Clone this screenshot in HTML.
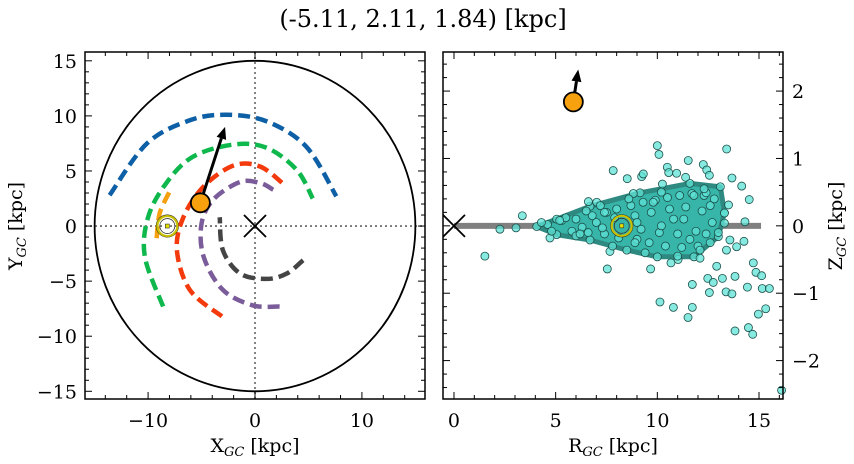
<!DOCTYPE html>
<html><head><meta charset="utf-8"><style>
body{margin:0;background:#fff;width:854px;height:464px;overflow:hidden}
svg{display:block;font-family:"DejaVu Serif","Liberation Serif",serif}
</style></head><body>
<svg id="c" width="854" height="464">
<text x="423" y="27" font-size="24" text-anchor="middle">(-5.11, 2.11, 1.84) [kpc]</text>
</svg>
<script>
// ---- data: left panel orbits (X,Y kpc)
const blueX=[-13.6,-10.1,-6.1,-2.6,1.1,4.8,7.6];
const blueY=[2.8,7.5,9.6,10.1,9.5,7.2,2.7];
const greenX=[-8.6,-10.3,-10.0,-8.3,-5.8,-2.0,1.1,3.9,5.4];
const greenY=[-7.3,-2.8,0.8,3.9,6.3,7.4,7.1,5.1,2.5];
const redX=[-3.1,-6.1,-7.3,-6.7,-4.8,-2.0,0.5,2.8];
const redY=[-8.2,-5.8,-2.2,0.8,3.6,5.5,5.4,3.7];
const purpleX=[2.3,-0.2,-3.0,-4.8,-5.0,-3.9,-1.4,0.5,1.7];
const purpleY=[-7.3,-7.2,-5.8,-2.8,0.2,2.4,4.0,3.9,3.3];
const grayX=[4.5,3.0,1.1,-1.4,-3.0,-3.3];
const grayY=[-3.1,-4.3,-4.8,-4.3,-2.2,0.8];
const orangeX=[-9.2,-8.9,-7.9];
const orangeY=[-1.1,1.2,3.3];
const starXY=[-5.11,2.11];
const velTipXY=[-2.8,9.0];
const sunXY=[-8.2,0];
// ---- right panel (R,Z)
const starRZ=[5.87,1.84];
const velTipRZ=[6.11,2.32];
const sunRZ=[8.25,0];
const coreR=[4.07,5.05,6.69,9.15,11.6,13.1,13.3,13.0,11.8,10.0,8.5,6.69,5.05];
const coreZ=[-0.01,0.1,0.29,0.49,0.63,0.58,0.19,-0.16,-0.46,-0.46,-0.36,-0.21,-0.13];
const innerR=[4.6,5.3,6.0,6.8,7.5,8.0,8.7,9.3,9.9,10.5,11.1,11.7,12.3,12.8,5.8,6.6,7.4,9.0,9.6,10.4,11.2,12.0,12.6,7.0,7.9,8.9,9.7,10.6,11.4,12.2,6.3,7.3,9.2,10.1,11.0,11.9,12.7,8.1,9.0,10.2,11.3,12.4];
const innerZ=[0.02,0.08,0.1,0.15,0.2,0.25,0.3,0.35,0.38,0.42,0.45,0.48,0.45,0.4,-0.08,-0.1,-0.12,-0.2,-0.25,-0.3,-0.32,-0.3,-0.25,0.05,0.12,0.15,0.2,0.25,0.28,0.22,-0.02,-0.03,-0.05,-0.1,-0.12,-0.08,0.05,-0.18,0.05,0.0,0.1,-0.12];
const ptR=[1.52,2.26,3.05,3.36,4.72,6.61,7.02,7.54,7.67,7.83,8.52,8.82,9.23,9.31,9.67,10.0,10.08,10.13,10.25,10.49,10.56,10.67,10.79,10.95,11.02,11.39,11.52,11.51,11.72,11.72,12.1,12.26,12.43,12.56,12.48,12.56,12.75,12.92,13.2,13.38,13.41,13.67,13.67,13.82,13.82,13.9,14.15,14.26,14.31,14.43,14.48,14.69,14.52,14.72,14.85,15.13,15.16,14.97,15.33,15.51,16.11,13.3,13.3,13.5,12.4,13.4,13.57,12.1,4.3,4.8,5.5,6.0,6.5,7.2,7.8,8.6,9.4,10.2,11.0,11.8,12.6,5.2,6.2,7.4,8.9,9.8,10.8,11.6,12.3,13.0];
const ptZ=[-0.45,-0.05,-0.03,0.15,-0.18,0.36,0.35,-0.64,-0.38,0.82,0.70,0.48,0.73,0.77,-0.64,1.19,1.06,-1.13,0.62,0.87,0.79,-0.55,-1.21,0.78,-0.50,0.72,0.97,-1.36,-1.21,-0.87,-0.48,0.91,0.83,0.75,-0.78,-0.99,-0.84,-0.60,-0.78,-0.98,1.14,0.71,-1.01,-0.75,-1.56,-0.31,0.59,-0.23,0.06,-0.91,-1.51,-1.61,0.39,-0.55,-0.69,-0.74,-0.93,-1.31,-1.23,-0.93,-2.44,0.19,0.04,0.31,0.49,-0.36,-0.21,-0.36,0.05,-0.08,0.12,-0.15,0.22,0.3,-0.3,0.4,-0.4,0.5,-0.45,0.45,0.3,0.08,-0.12,0.2,-0.25,0.35,0.1,-0.2,0.55,-0.1];
const leftXTicks=[-10,0,10], leftYTicks=[-15,-10,-5,0,5,10,15];
const rightXTicks=[0,5,10,15], rightYTicks=[-2,-1,0,1,2];

const NS='http://www.w3.org/2000/svg', svg=document.getElementById('c');
function mk(t,a,p){const e=document.createElementNS(NS,t);for(const k in a)e.setAttribute(k,a[k]);(p||svg).appendChild(e);return e;}
const L={x0:85,x1:425,y0:52,y1:399,xmin:-15.9,xmax:15.9,ymin:-15.7,ymax:15.8};
const Rp={x0:443,x1:783,y0:52,y1:399,xmin:-0.54,xmax:16.18,ymin:-2.57,ymax:2.58};
const sx=(A,v)=>A.x0+(v-A.xmin)/(A.xmax-A.xmin)*(A.x1-A.x0);
const sy=(A,v)=>A.y1-(v-A.ymin)/(A.ymax-A.ymin)*(A.y1-A.y0);

const gL=mk('g',{});
const gR=mk('g',{});

mk('line',{x1:L.x0,x2:L.x1,y1:sy(L,0),y2:sy(L,0),stroke:'#777','stroke-width':1.8,'stroke-dasharray':'2,3'},gL);
mk('line',{x1:sx(L,0),x2:sx(L,0),y1:L.y0,y2:L.y1,stroke:'#777','stroke-width':1.8,'stroke-dasharray':'2,3'},gL);
const circ=mk('ellipse',{cx:sx(L,0),cy:sy(L,0),rx:sx(L,15)-sx(L,0),ry:sy(L,0)-sy(L,15),fill:'none',stroke:'#000','stroke-width':1.8},gL);

function smooth(P){let d='M'+P[0][0].toFixed(1)+','+P[0][1].toFixed(1);
 for(let i=0;i<P.length-1;i++){const p0=P[i-1]||P[i],p1=P[i],p2=P[i+1],p3=P[i+2]||p2;
  const c1=[p1[0]+(p2[0]-p0[0])/6,p1[1]+(p2[1]-p0[1])/6],c2=[p2[0]-(p3[0]-p1[0])/6,p2[1]-(p3[1]-p1[1])/6];
  d+=`C${c1[0].toFixed(1)},${c1[1].toFixed(1)} ${c2[0].toFixed(1)},${c2[1].toFixed(1)} ${p2[0].toFixed(1)},${p2[1].toFixed(1)}`;}
 return d;}
function orbit(X,Y,col,name){
  const P=X.map((x,i)=>[sx(L,x),sy(L,Y[i])]);
  const p=mk('path',{d:smooth(P),fill:'none',stroke:col,'stroke-width':4.5,'stroke-dasharray':'12,6'},gL);
  
  
}
orbit(blueX,blueY,'#0d5fa6','orbit-blue');
orbit(greenX,greenY,'#0fb84c','orbit-green');
orbit(redX,redY,'#f23a0c','orbit-red');
orbit(purpleX,purpleY,'#7b5c9a','orbit-purple');
orbit(grayX,grayY,'#444','orbit-gray');
orbit(orangeX,orangeY,'#f5a00f','orbit-orange');
function cross(g,x,y,n){mk('path',{d:`M${x-11},${y-11}L${x+11},${y+11}M${x-11},${y+11}L${x+11},${y-11}`,stroke:'#000','stroke-width':1.8},g);}
cross(gL,sx(L,0),sy(L,0),'galactic-center-marker');
function sun(g,x,y){const c=mk('circle',{cx:x,cy:y,r:11,fill:'none',stroke:'#222','stroke-width':1},g);
 mk('circle',{cx:x,cy:y,r:10,fill:'none',stroke:'#c8c000','stroke-width':2.2},g);mk('circle',{cx:x,cy:y,r:7.5,fill:'none',stroke:'#333','stroke-width':0.8},g);
 mk('rect',{x:x-2,y:y-2,width:4,height:4,fill:'#e3e000',stroke:'#333','stroke-width':0.6},g);}
function arrow(g,x1,y1,x2,y2){const a=Math.atan2(y2-y1,x2-x1),h=12,w=5;
 mk('line',{x1:x1,y1:y1,x2:x2-h*Math.cos(a),y2:y2-h*Math.sin(a),stroke:'#000','stroke-width':3},g);
 mk('polygon',{points:`${x2},${y2} ${x2-h*Math.cos(a)+w*Math.sin(a)},${y2-h*Math.sin(a)-w*Math.cos(a)} ${x2-h*Math.cos(a)-w*Math.sin(a)},${y2-h*Math.sin(a)+w*Math.cos(a)}`,fill:'#000'},g);}
function star(g,x,y){const c=mk('circle',{cx:x,cy:y,r:9.5,fill:'#f7a10e',stroke:'#000','stroke-width':1.8},g);}
sun(gL,sx(L,sunXY[0]),sy(L,sunXY[1]));
arrow(gL,sx(L,starXY[0]),sy(L,starXY[1]),sx(L,velTipXY[0]),sy(L,velTipXY[1]));
star(gL,sx(L,starXY[0]),sy(L,starXY[1]));

// right panel
const band=mk('line',{x1:sx(Rp,0),x2:sx(Rp,15.1),y1:sy(Rp,0),y2:sy(Rp,0),stroke:'#808080','stroke-width':6},gR);

const core=mk('polygon',{points:coreR.map((r,i)=>sx(Rp,r).toFixed(1)+','+sy(Rp,coreZ[i]).toFixed(1)).join(' '),fill:'#37b5a9',stroke:'#2e8a81','stroke-width':5,'stroke-linejoin':'round'},gR);

function pt(r,z){const c=mk('circle',{cx:sx(Rp,r),cy:sy(Rp,z),r:4,fill:'#5fe3d6',stroke:'#1b4f4a','stroke-width':0.8,'fill-opacity':0.75},gR);
 
 }
for(let i=0;i<coreR.length;i++)pt(coreR[i],coreZ[i]);
for(let i=0;i<innerR.length;i++)pt(innerR[i],innerZ[i]);
for(let i=0;i<ptR.length;i++)pt(ptR[i],ptZ[i]);
cross(gR,sx(Rp,0),sy(Rp,0),'galactic-center-marker');
sun(gR,sx(Rp,sunRZ[0]),sy(Rp,sunRZ[1]));
arrow(gR,sx(Rp,starRZ[0]),sy(Rp,starRZ[1]),sx(Rp,velTipRZ[0]),sy(Rp,velTipRZ[1]));
star(gR,sx(Rp,starRZ[0]),sy(Rp,starRZ[1]));

function frame(A,g,xt,xminor,yt,yminor,yRight){
 mk('rect',{x:A.x0,y:A.y0,width:A.x1-A.x0,height:A.y1-A.y0,fill:'none',stroke:'#000','stroke-width':1.5},g);
 for(let v=Math.ceil(A.xmin/xminor)*xminor;v<=A.xmax;v+=xminor){const x=sx(A,v);const maj=xt.some(t=>Math.abs(t-v)<1e-6);const l=maj?7:4;
  mk('line',{x1:x,x2:x,y1:A.y1,y2:A.y1-l,stroke:'#000','stroke-width':1},g);mk('line',{x1:x,x2:x,y1:A.y0,y2:A.y0+l,stroke:'#000','stroke-width':1},g);}
 for(let v=Math.ceil(A.ymin/yminor-1e-6)*yminor;v<=A.ymax;v+=yminor){const y=sy(A,v);const maj=yt.some(t=>Math.abs(t-v)<1e-6);const l=maj?7:4;
  mk('line',{x1:A.x0,x2:A.x0+l,y1:y,y2:y,stroke:'#000','stroke-width':1},g);mk('line',{x1:A.x1,x2:A.x1-l,y1:y,y2:y,stroke:'#000','stroke-width':1},g);}
 xt.forEach(v=>{const t=mk('text',{x:sx(A,v),y:A.y1+28,'font-size':19,'text-anchor':'middle'},g);t.textContent=String(v).replace('-','\u2212');});
 yt.forEach(v=>{const t=mk('text',{x:yRight?A.x1+9:A.x0-8,y:sy(A,v)+7,'font-size':19,'text-anchor':yRight?'start':'end'},g);t.textContent=String(v).replace('-','\u2212');});
}
frame(L,gL,leftXTicks,2,leftYTicks,1,false);
frame(Rp,gR,rightXTicks,1,rightYTicks,0.2,true);
function lab(x,y,main,rot,name){const t=mk('text',{x:x,y:y,'font-size':19,'text-anchor':'middle',transform:rot?`rotate(-90 ${x} ${y})`:''});
 t.innerHTML=main[0]+'<tspan font-size="13" dy="4" font-style="italic">GC</tspan><tspan dy="-4"> [kpc]</tspan>';}
lab(255,452,'X',false,'x-axis-title');
lab(613,452,'R',false,'r-axis-title');
lab(22,226,'Y',true,'y-axis-title');
lab(842,226,'Z',true,'z-axis-title');
</script>
</body></html>
